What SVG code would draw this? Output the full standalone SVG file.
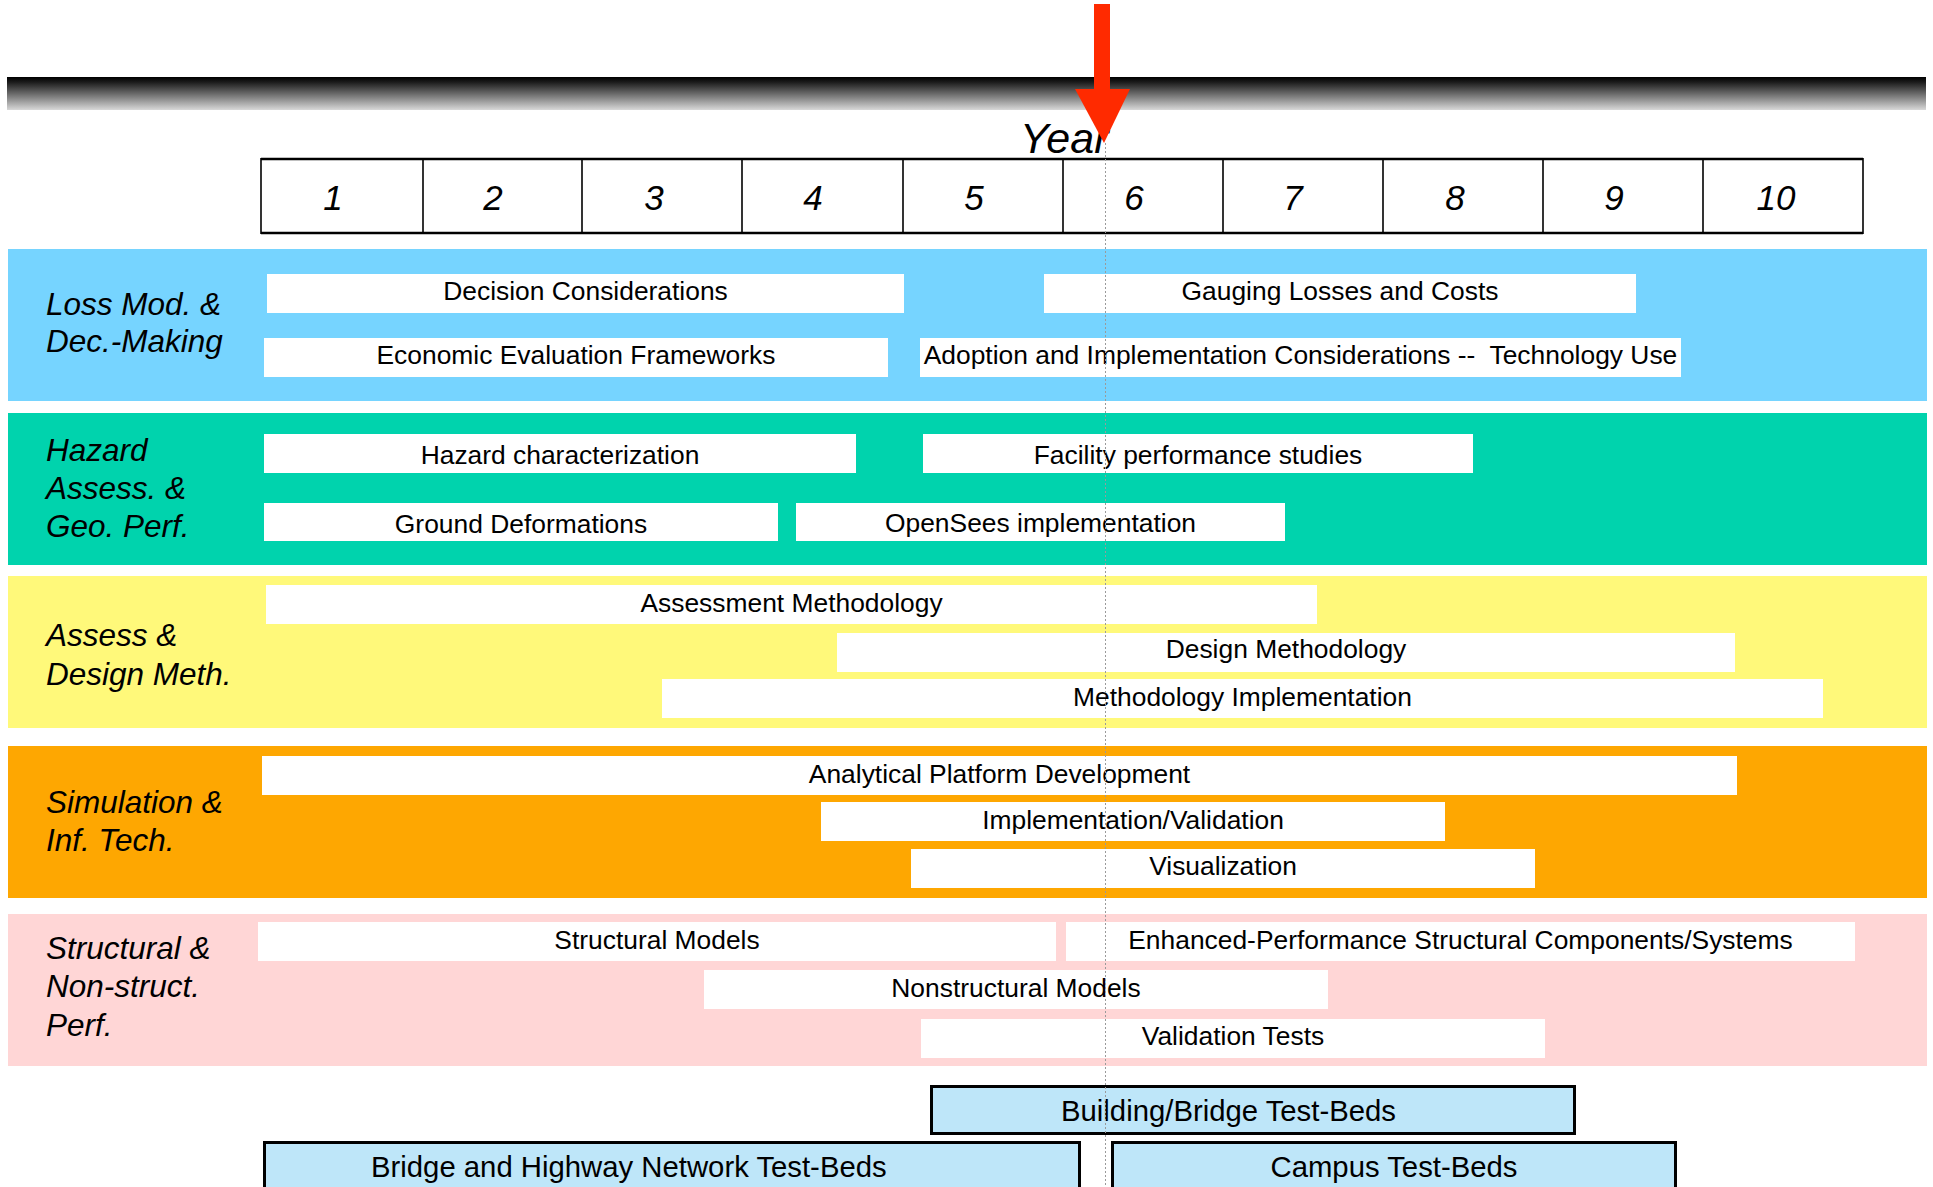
<svg xmlns="http://www.w3.org/2000/svg" width="1933" height="1187" viewBox="0 0 1933 1187">
<defs>
<linearGradient id="barGrad" x1="0" y1="0" x2="0" y2="1">
<stop offset="0" stop-color="#000000"/>
<stop offset="0.15" stop-color="#1a1a1a"/>
<stop offset="1" stop-color="#d8d8d8"/>
</linearGradient>
<style>
.lbl{font-family:"Liberation Sans",Arial,sans-serif;font-style:italic;font-size:31.5px;fill:#000}
.yr{font-family:"Liberation Sans",Arial,sans-serif;font-style:italic;font-size:35px;fill:#000;text-anchor:middle}
.task{fill:#ffffff}
.tt{font-family:"Liberation Sans",Arial,sans-serif;font-size:26.4px;fill:#000;text-anchor:middle}
.bed{fill:#bee6f9;stroke:#000;stroke-width:3}
.bt{font-family:"Liberation Sans",Arial,sans-serif;font-size:29.3px;fill:#000}
.col{stroke:#000;stroke-width:1.6}
</style>
</defs>
<rect width="1933" height="1187" fill="#ffffff"/>

<rect x="7" y="77" width="1919" height="33" fill="url(#barGrad)"/>

<g id="year-header">
<text x="1020" y="153" style="font-family:'Liberation Sans',Arial,sans-serif;font-style:italic;font-size:43px;fill:#000">Year</text>
<rect x="261" y="159" width="1602" height="74" fill="#ffffff" stroke="none"/>
<line class="col" x1="261" y1="158" x2="261" y2="234"/>
<line class="col" x1="423" y1="159" x2="423" y2="233"/>
<line class="col" x1="582" y1="159" x2="582" y2="233"/>
<line class="col" x1="742" y1="159" x2="742" y2="233"/>
<line class="col" x1="903" y1="159" x2="903" y2="233"/>
<line class="col" x1="1063" y1="159" x2="1063" y2="233"/>
<line class="col" x1="1223" y1="159" x2="1223" y2="233"/>
<line class="col" x1="1383" y1="159" x2="1383" y2="233"/>
<line class="col" x1="1543" y1="159" x2="1543" y2="233"/>
<line class="col" x1="1703" y1="159" x2="1703" y2="233"/>
<line class="col" x1="1863" y1="158" x2="1863" y2="234"/>
<line x1="261" y1="159" x2="1863" y2="159" stroke="#000" stroke-width="2.6"/>
<line x1="261" y1="233" x2="1863" y2="233" stroke="#000" stroke-width="2.6"/>
<text class="yr" x="333" y="210">1</text>
<text class="yr" x="493" y="210">2</text>
<text class="yr" x="654" y="210">3</text>
<text class="yr" x="813" y="210">4</text>
<text class="yr" x="974" y="210">5</text>
<text class="yr" x="1134" y="210">6</text>
<text class="yr" x="1293" y="210">7</text>
<text class="yr" x="1455" y="210">8</text>
<text class="yr" x="1614" y="210">9</text>
<text class="yr" x="1776" y="210">10</text>
</g>

<g id="band-loss">
<rect x="8" y="249" width="1919" height="152" fill="#76d4ff"/>
<text class="lbl" x="46" y="315">Loss Mod. &amp;</text>
<text class="lbl" x="46" y="352">Dec.-Making</text>
</g>
<g id="task-decision"><rect class="task" x="267" y="274" width="637" height="39"/><text class="tt" x="585.5" y="300">Decision Considerations</text></g>
<g id="task-gauging"><rect class="task" x="1044" y="274" width="592" height="39"/><text class="tt" x="1340" y="300">Gauging Losses and Costs</text></g>
<g id="task-economic"><rect class="task" x="264" y="338" width="624" height="39"/><text class="tt" x="576" y="364">Economic Evaluation Frameworks</text></g>
<g id="task-adoption"><rect class="task" x="920" y="338" width="761" height="39"/><text class="tt" x="1300.5" y="364" xml:space="preserve">Adoption and Implementation Considerations --  Technology Use</text></g>

<g id="band-hazard">
<rect x="8" y="413" width="1919" height="152" fill="#00d3ad"/>
<text class="lbl" x="46" y="461">Hazard</text>
<text class="lbl" x="46" y="499">Assess. &amp;</text>
<text class="lbl" x="46" y="537">Geo. Perf.</text>
</g>
<g id="task-hazard"><rect class="task" x="264" y="434" width="592" height="39"/><text class="tt" x="560" y="464">Hazard characterization</text></g>
<g id="task-facility"><rect class="task" x="923" y="434" width="550" height="39"/><text class="tt" x="1198" y="464">Facility performance studies</text></g>
<g id="task-ground"><rect class="task" x="264" y="503" width="514" height="38"/><text class="tt" x="521" y="533">Ground Deformations</text></g>
<g id="task-opensees"><rect class="task" x="796" y="503" width="489" height="38"/><text class="tt" x="1040.5" y="532">OpenSees implementation</text></g>

<g id="band-assess">
<rect x="8" y="576" width="1919" height="152" fill="#fff97a"/>
<text class="lbl" x="46" y="646">Assess &amp;</text>
<text class="lbl" x="46" y="685">Design Meth.</text>
</g>
<g id="task-assessment"><rect class="task" x="266" y="585" width="1051" height="39"/><text class="tt" x="791.5" y="612">Assessment Methodology</text></g>
<g id="task-design"><rect class="task" x="837" y="633" width="898" height="39"/><text class="tt" x="1286" y="658">Design Methodology</text></g>
<g id="task-methimpl"><rect class="task" x="662" y="679" width="1161" height="39"/><text class="tt" x="1242.5" y="706">Methodology Implementation</text></g>

<g id="band-sim">
<rect x="8" y="746" width="1919" height="152" fill="#fea701"/>
<text class="lbl" x="46" y="813">Simulation &amp;</text>
<text class="lbl" x="46" y="851">Inf. Tech.</text>
</g>
<g id="task-analytical"><rect class="task" x="262" y="756" width="1475" height="39"/><text class="tt" x="999.5" y="783">Analytical Platform Development</text></g>
<g id="task-implval"><rect class="task" x="821" y="802" width="624" height="39"/><text class="tt" x="1133" y="829">Implementation/Validation</text></g>
<g id="task-vis"><rect class="task" x="911" y="849" width="624" height="39"/><text class="tt" x="1223" y="875">Visualization</text></g>

<g id="band-struct">
<rect x="8" y="914" width="1919" height="152" fill="#ffd6d6"/>
<text class="lbl" x="46" y="959">Structural &amp;</text>
<text class="lbl" x="46" y="997">Non-struct.</text>
<text class="lbl" x="46" y="1036">Perf.</text>
</g>
<g id="task-structural"><rect class="task" x="258" y="922" width="798" height="39"/><text class="tt" x="657" y="949">Structural Models</text></g>
<g id="task-enhanced"><rect class="task" x="1066" y="922" width="789" height="39"/><text class="tt" x="1460.5" y="949">Enhanced-Performance Structural Components/Systems</text></g>
<g id="task-nonstructural"><rect class="task" x="704" y="970" width="624" height="39"/><text class="tt" x="1016" y="997">Nonstructural Models</text></g>
<g id="task-validation"><rect class="task" x="921" y="1019" width="624" height="39"/><text class="tt" x="1233" y="1045">Validation Tests</text></g>

<g id="testbed-building"><rect class="bed" x="931.5" y="1086.5" width="643" height="47"/><text class="bt" x="1061" y="1121">Building/Bridge Test-Beds</text></g>
<g id="testbed-bridge"><rect class="bed" x="264.5" y="1142.5" width="815" height="60"/><text class="bt" x="371" y="1177">Bridge and Highway Network Test-Beds</text></g>
<g id="testbed-campus"><rect class="bed" x="1112.5" y="1142.5" width="563" height="60"/><text class="bt" x="1394" y="1177" text-anchor="middle">Campus Test-Beds</text></g>

<g id="connectors">
<line x1="1105.5" y1="143" x2="1105.5" y2="1187" stroke="#9a9a9a" stroke-width="1" stroke-dasharray="2,2"/>
<rect x="1094" y="4" width="16" height="86" fill="#ff2a00"/>
<polygon points="1075,89 1130,89 1104,143" fill="#ff2a00"/>
</g>
</svg>
